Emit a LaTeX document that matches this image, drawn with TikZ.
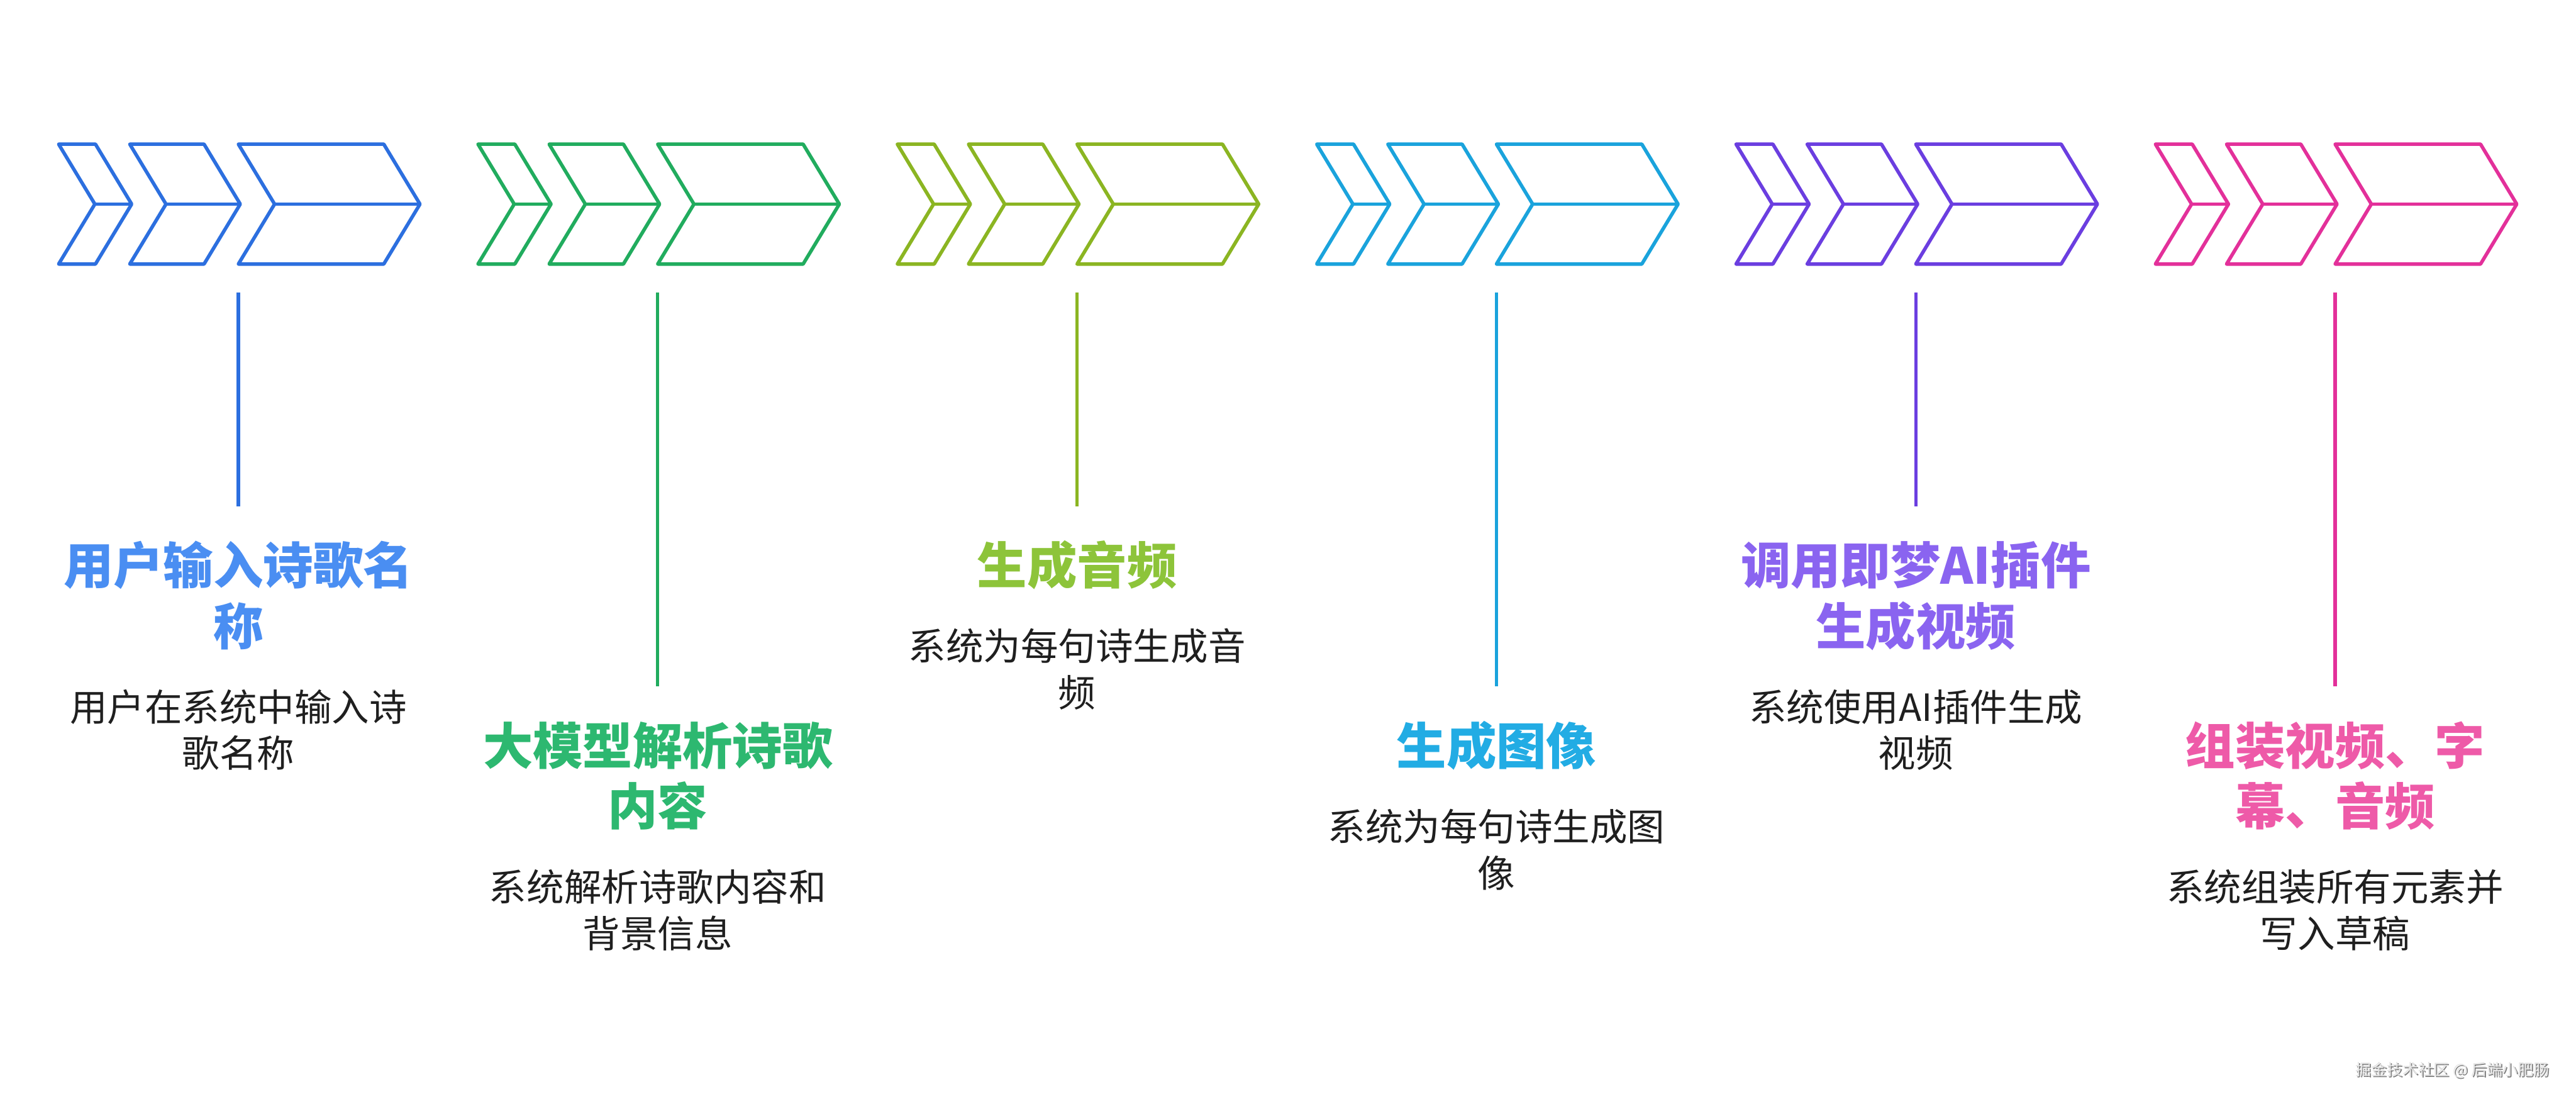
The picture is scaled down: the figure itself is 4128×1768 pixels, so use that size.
\documentclass[tikz,border=0pt]{standalone}
\usepackage{fontspec}
\newfontfamily\cjk{Noto Sans CJK SC}
\definecolor{c1}{HTML}{2C6FDF}\definecolor{t1}{HTML}{4A8EF2}
\definecolor{c2}{HTML}{21AC5E}\definecolor{t2}{HTML}{2DB870}
\definecolor{c3}{HTML}{8BB522}\definecolor{t3}{HTML}{8DC43A}
\definecolor{c4}{HTML}{1AA3DC}\definecolor{t4}{HTML}{22ACE4}
\definecolor{c5}{HTML}{6B3EE0}\definecolor{t5}{HTML}{8A64F0}
\definecolor{c6}{HTML}{E3309A}\definecolor{t6}{HTML}{EE5AA8}
\newcommand\chevgroup[2]{%
  \begin{scope}[shift={(#1,0)}]
    \foreach \a/\w in {0/59,114/119,288/233}{
      \draw[chev,draw=#2] (\a,231) -- ++(\w,0) -- ++(58,96) -- ++(-58,96) -- ++(-\w,0) -- ++(58,-96) -- cycle;
      \draw[chev,draw=#2] (\a+58,327) -- ++(\w,0);
    }
  \end{scope}}
\begin{document}
\begin{tikzpicture}[x=0.25pt,y=-0.25pt,
  chev/.style={line width=1.4pt,line join=round},
  vline/.style={line width=1.3pt},
  ttl/.style={font=\cjk\bfseries\fontsize{20pt}{24pt}\selectfont,anchor=base,inner sep=0pt},
  dsc/.style={font=\cjk\fontsize{15pt}{18pt}\selectfont,anchor=base,inner sep=0pt,text=black!88},
  wmk/.style={font=\cjk\fontsize{6.25pt}{7pt}\selectfont,anchor=base,inner sep=0pt}]
\useasboundingbox[fill=white] (0,0) rectangle (4128,1768);

% chevron groups
\chevgroup{94}{c1}
\chevgroup{766}{c2}
\chevgroup{1438}{c3}
\chevgroup{2110}{c4}
\chevgroup{2782}{c5}
\chevgroup{3454}{c6}

% vertical lines
\coordinate (g1top) at (382,469);  \coordinate (g1bot) at (382,811);
\coordinate (g2top) at (1054,469); \coordinate (g2bot) at (1054,1100);
\coordinate (g3top) at (1726,469); \coordinate (g3bot) at (1726,811);
\coordinate (g4top) at (2398,469); \coordinate (g4bot) at (2398,1100);
\coordinate (g5top) at (3070,469); \coordinate (g5bot) at (3070,811);
\coordinate (g6top) at (3742,469); \coordinate (g6bot) at (3742,1100);
\draw[vline,c1] (g1top) -- (g1bot);
\draw[vline,c2] (g2top) -- (g2bot);
\draw[vline,c3] (g3top) -- (g3bot);
\draw[vline,c4] (g4top) -- (g4bot);
\draw[vline,c5] (g5top) -- (g5bot);
\draw[vline,c6] (g6top) -- (g6bot);

% group 1
\node[ttl,text=t1] (g1ta) at (382,936) {用户输入诗歌名};
\node[ttl,text=t1] (g1tb) at (382,1033) {称};
\node[dsc] (g1da) at (382,1155) {用户在系统中输入诗};
\node[dsc] (g1db) at (382,1229) {歌名称};
% group 2
\node[ttl,text=t2] (g2ta) at (1054,1225) {大模型解析诗歌};
\node[ttl,text=t2] (g2tb) at (1054,1322) {内容};
\node[dsc] (g2da) at (1054,1444) {系统解析诗歌内容和};
\node[dsc] (g2db) at (1054,1518) {背景信息};
% group 3
\node[ttl,text=t3] (g3ta) at (1726,936) {生成音频};
\node[dsc] (g3da) at (1726,1058) {系统为每句诗生成音};
\node[dsc] (g3db) at (1726,1132) {频};
% group 4
\node[ttl,text=t4] (g4ta) at (2398,1225) {生成图像};
\node[dsc] (g4da) at (2398,1347) {系统为每句诗生成图};
\node[dsc] (g4db) at (2398,1421) {像};
% group 5
\node[ttl,text=t5] (g5ta) at (3070,936) {调用即梦AI插件};
\node[ttl,text=t5] (g5tb) at (3070,1033) {生成视频};
\node[dsc] (g5da) at (3070,1155) {系统使用AI插件生成};
\node[dsc] (g5db) at (3070,1229) {视频};
% group 6
\node[ttl,text=t6] (g6ta) at (3742,1225) {组装视频、字};
\node[ttl,text=t6] (g6tb) at (3742,1322) {幕、音频};
\node[dsc] (g6da) at (3742,1444) {系统组装所有元素并};
\node[dsc] (g6db) at (3742,1518) {写入草稿};

% watermark
\node[wmk,text=black!50] (wms) at (3932,1725) {掘金技术社区 @ 后端小肥肠};
\node[wmk,text=black!10] (wm) at (3930,1723) {掘金技术社区 @ 后端小肥肠};
\end{tikzpicture}
\end{document}
